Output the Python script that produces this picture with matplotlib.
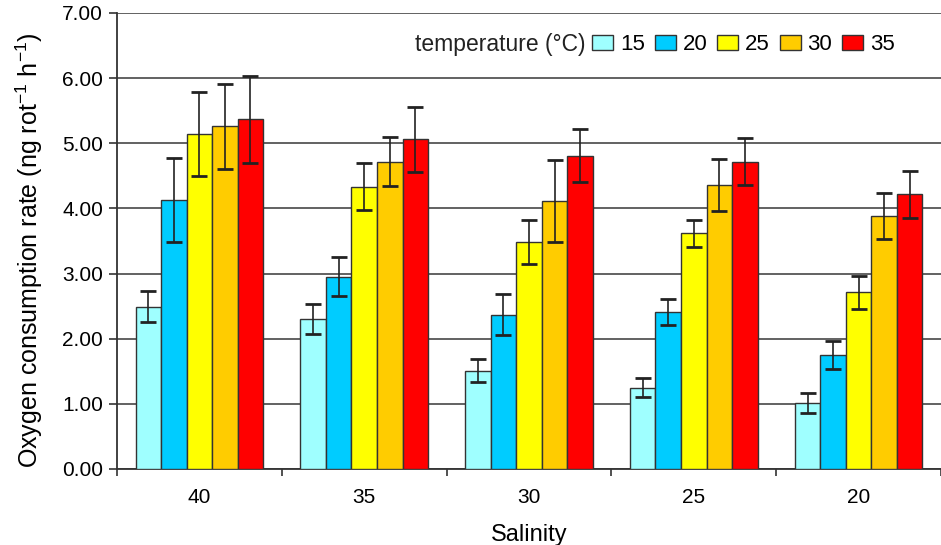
import matplotlib
matplotlib.use("Agg")
import matplotlib.pyplot as plt
import numpy as np

# salinity groups and temperature series
salinity = ["40", "35", "30", "25", "20"]
temps = ["15", "20", "25", "30", "35"]
colors = ["#9FFFFF", "#00CCFF", "#FFFF00", "#FFCC00", "#FF0000"]

rate_15 = [2.49, 2.31, 1.51, 1.25, 1.01]
rate_20 = [4.13, 2.95, 2.37, 2.41, 1.75]
rate_25 = [5.14, 4.33, 3.48, 3.62, 2.71]
rate_30 = [5.26, 4.72, 4.12, 4.36, 3.88]
rate_35 = [5.37, 5.06, 4.81, 4.72, 4.22]

err_15 = [0.24, 0.23, 0.18, 0.14, 0.15]
err_20 = [0.65, 0.30, 0.32, 0.20, 0.22]
err_25 = [0.64, 0.36, 0.34, 0.21, 0.26]
err_30 = [0.65, 0.38, 0.63, 0.40, 0.35]
err_35 = [0.67, 0.50, 0.41, 0.36, 0.36]

rates = [rate_15, rate_20, rate_25, rate_30, rate_35]
errs = [err_15, err_20, err_25, err_30, err_35]

plt.rcParams['font.family'] = ['Liberation Sans', 'DejaVu Sans']
plt.rcParams['mathtext.fontset'] = 'custom'
plt.rcParams['mathtext.rm'] = 'Liberation Sans'
plt.rcParams['mathtext.it'] = 'Liberation Sans'
plt.rcParams['axes.unicode_minus'] = False

fig = plt.figure(figsize=(9.41, 5.45), dpi=100)
ax = fig.add_axes([117/941, 76/545, 824/941, 456/545])

x = np.arange(len(salinity))
w = 0.155
for i in range(len(temps)):
    pos = x + (i - 2) * w
    ax.bar(pos, rates[i], w, color=colors[i], edgecolor="#333333",
           linewidth=1.0, label=temps[i], zorder=3)
    ax.errorbar(pos, rates[i], yerr=errs[i], fmt="none", ecolor="#222222",
                elinewidth=1.2, capsize=6, capthick=2.0, zorder=4)

ax.set_xlim(-0.5, 4.5)
ax.set_ylim(0, 7)
ax.set_yticks(np.arange(0, 7.01, 1))
ax.set_yticklabels(["%.2f" % v for v in np.arange(0, 7.01, 1)])
ax.set_xticks(x)
ax.set_xticklabels(salinity)
ax.set_xticks(np.arange(-0.5, 4.6, 1), minor=True)
ax.tick_params(axis="x", which="major", length=0, labelsize=15, pad=14)
ax.tick_params(axis="x", which="minor", length=5, width=1.2, color="#333333")
ax.tick_params(axis="y", length=6, width=1.2, color="#333333", labelsize=15, pad=4)

ax.yaxis.grid(True, color="#555555", linewidth=1.3, zorder=0)
ax.set_axisbelow(True)
for s in ["top", "right"]:
    ax.spines[s].set_visible(False)
for s in ["left", "bottom"]:
    ax.spines[s].set_color("#333333")
    ax.spines[s].set_linewidth(1.3)
ax.spines["left"].set_bounds(0, 7)

ax.set_ylabel("Oxygen consumption rate (ng rot$^{\\mathregular{-1}}$ h$^{\\mathregular{-1}}$)",
              fontsize=18)
ax.yaxis.set_label_coords(-0.087, 0.48)
ax.set_xlabel("Salinity", fontsize=17, labelpad=12)

leg = ax.legend(loc="center right", bbox_to_anchor=(0.944, 0.93), ncol=5,
                frameon=False, fontsize=16, handlelength=0.95, handleheight=0.7,
                handletextpad=0.3, columnspacing=0.45, borderpad=0, borderaxespad=0)
for p in leg.get_patches():
    p.set_edgecolor("#333333")
ax.text(0.568, 0.93, "temperature (\u00b0C)", transform=ax.transAxes,
        fontsize=16.5, va="center", ha="right", color="#222222")

fig.savefig("out.png", dpi=100)
